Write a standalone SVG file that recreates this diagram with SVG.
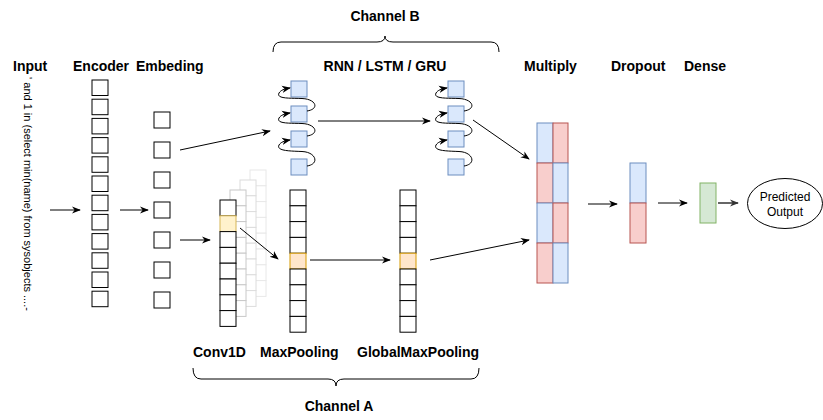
<svg xmlns="http://www.w3.org/2000/svg" width="823" height="420" viewBox="0 0 823 420">
<style>
.lbl{font-family:"Liberation Sans",Arial,sans-serif;font-weight:bold;font-size:14px;fill:#000}
.txt{font-family:"Liberation Sans",Arial,sans-serif;font-size:12px;fill:#000}
.w{fill:#fff;stroke:#000;stroke-width:1}
.g1{fill:#fff;stroke:#c8c8c8;stroke-width:1}
.g2{fill:#fff;stroke:#dcdcdc;stroke-width:1}
.g3{fill:#fff;stroke:#e8e8e8;stroke-width:1}
.blue{fill:#dae8fc;stroke:#6c8ebf;stroke-width:1}
.red{fill:#f8cecc;stroke:#b85450;stroke-width:1}
.green{fill:#d5e8d4;stroke:#82b366;stroke-width:1}
.yel{fill:#fff2cc;stroke:#d6b656;stroke-width:1}
.org{fill:#ffe6cc;stroke:#d79b00;stroke-width:1}
.edge{fill:none;stroke:#000;stroke-width:1}
.brace{fill:none;stroke:#000;stroke-width:1}
</style>
<defs>
<marker id="arr" viewBox="0 0 10 10" refX="9" refY="5" markerWidth="9" markerHeight="9" markerUnits="userSpaceOnUse" orient="auto">
<path d="M0,1 L10,5 L0,9 L3,5 z" fill="#000"/>
</marker>
<marker id="arrg" viewBox="0 0 10 10" refX="9" refY="5" markerWidth="9" markerHeight="9" markerUnits="userSpaceOnUse" orient="auto">
<path d="M0,1 L10,5 L0,9 L3,5 z" fill="#333"/>
</marker>
</defs>

<!-- Labels -->
<g id="labels">
<text class="lbl" x="13" y="71">Input</text>
<text class="lbl" x="73" y="71">Encoder</text>
<text class="lbl" x="136" y="71">Embeding</text>
<text class="lbl" x="385" y="71" text-anchor="middle">RNN / LSTM / GRU</text>
<text class="lbl" x="385" y="21" text-anchor="middle">Channel B</text>
<text class="lbl" x="524" y="71">Multiply</text>
<text class="lbl" x="611" y="71">Dropout</text>
<text class="lbl" x="684" y="71">Dense</text>
<text class="lbl" x="193" y="357">Conv1D</text>
<text class="lbl" x="260" y="357">MaxPooling</text>
<text class="lbl" x="357" y="357">GlobalMaxPooling</text>
<text class="lbl" x="339" y="411" text-anchor="middle">Channel A</text>
</g>

<g id="input">
<text class="txt" style="font-size:11px" transform="translate(28,194) rotate(90)" text-anchor="middle" dominant-baseline="central">' and 1 in (select min(name) from sysobjects ....-</text>
</g>

<g id="encoder">
<rect class="w" x="92" y="80" width="16" height="15.5"/>
<rect class="w" x="92" y="99.2" width="16" height="15.5"/>
<rect class="w" x="92" y="118.4" width="16" height="15.5"/>
<rect class="w" x="92" y="137.6" width="16" height="15.5"/>
<rect class="w" x="92" y="156.8" width="16" height="15.5"/>
<rect class="w" x="92" y="176" width="16" height="15.5"/>
<rect class="w" x="92" y="195.2" width="16" height="15.5"/>
<rect class="w" x="92" y="214.4" width="16" height="15.5"/>
<rect class="w" x="92" y="233.6" width="16" height="15.5"/>
<rect class="w" x="92" y="252.8" width="16" height="15.5"/>
<rect class="w" x="92" y="272" width="16" height="15.5"/>
<rect class="w" x="92" y="291.2" width="16" height="15.5"/>
</g>

<g id="embedding">
<rect class="w" x="154" y="112" width="16" height="16"/>
<rect class="w" x="154" y="142" width="16" height="16"/>
<rect class="w" x="154" y="172" width="16" height="16"/>
<rect class="w" x="154" y="202" width="16" height="16"/>
<rect class="w" x="154" y="232" width="16" height="16"/>
<rect class="w" x="154" y="262" width="16" height="16"/>
<rect class="w" x="154" y="292" width="16" height="16"/>
</g>

<g id="conv1d">
<g id="conv-layer4">
<rect class="g3" x="250" y="170" width="16" height="15.8"/><rect class="g3" x="250" y="185.8" width="16" height="15.8"/><rect class="g3" x="250" y="201.6" width="16" height="15.8"/><rect class="g3" x="250" y="217.4" width="16" height="15.8"/><rect class="g3" x="250" y="233.2" width="16" height="15.8"/><rect class="g3" x="250" y="249" width="16" height="15.8"/><rect class="g3" x="250" y="264.8" width="16" height="15.8"/><rect class="g3" x="250" y="280.6" width="16" height="15.8"/>
</g>
<g id="conv-layer3">
<rect class="g2" x="240" y="180" width="16" height="15.8"/><rect class="g2" x="240" y="195.8" width="16" height="15.8"/><rect class="g2" x="240" y="211.6" width="16" height="15.8"/><rect class="g2" x="240" y="227.4" width="16" height="15.8"/><rect class="g2" x="240" y="243.2" width="16" height="15.8"/><rect class="g2" x="240" y="259" width="16" height="15.8"/><rect class="g2" x="240" y="274.8" width="16" height="15.8"/><rect class="g2" x="240" y="290.6" width="16" height="15.8"/>
</g>
<g id="conv-layer2">
<rect class="g1" x="230" y="190" width="16" height="15.8"/><rect class="g1" x="230" y="205.8" width="16" height="15.8"/><rect class="g1" x="230" y="221.6" width="16" height="15.8"/><rect class="g1" x="230" y="237.4" width="16" height="15.8"/><rect class="g1" x="230" y="253.2" width="16" height="15.8"/><rect class="g1" x="230" y="269" width="16" height="15.8"/><rect class="g1" x="230" y="284.8" width="16" height="15.8"/><rect class="g1" x="230" y="300.6" width="16" height="15.8"/>
</g>
<g id="conv-layer1">
<rect class="w" x="220" y="200" width="16" height="15.8"/><rect class="yel" x="220" y="215.8" width="16" height="15.8"/><rect class="w" x="220" y="231.6" width="16" height="15.8"/><rect class="w" x="220" y="247.4" width="16" height="15.8"/><rect class="w" x="220" y="263.2" width="16" height="15.8"/><rect class="w" x="220" y="279" width="16" height="15.8"/><rect class="w" x="220" y="294.8" width="16" height="15.8"/><rect class="w" x="220" y="310.6" width="16" height="15.8"/>
</g>
</g>

<g id="maxpooling">
<rect class="w" x="290" y="190" width="16" height="15.8"/><rect class="w" x="290" y="205.8" width="16" height="15.8"/><rect class="w" x="290" y="221.6" width="16" height="15.8"/><rect class="w" x="290" y="237.4" width="16" height="15.8"/><rect class="org" x="290" y="253.2" width="16" height="15.8"/><rect class="w" x="290" y="269" width="16" height="15.8"/><rect class="w" x="290" y="284.8" width="16" height="15.8"/><rect class="w" x="290" y="300.6" width="16" height="15.8"/><rect class="w" x="290" y="316.4" width="16" height="15.8"/>
</g>

<g id="globalmaxpooling">
<rect class="w" x="400" y="190" width="16" height="15.8"/><rect class="w" x="400" y="205.8" width="16" height="15.8"/><rect class="w" x="400" y="221.6" width="16" height="15.8"/><rect class="w" x="400" y="237.4" width="16" height="15.8"/><rect class="org" x="400" y="253.2" width="16" height="15.8"/><rect class="w" x="400" y="269" width="16" height="15.8"/><rect class="w" x="400" y="284.8" width="16" height="15.8"/><rect class="w" x="400" y="300.6" width="16" height="15.8"/><rect class="w" x="400" y="316.4" width="16" height="15.8"/>
</g>

<g id="rnn1">
<rect class="blue" x="291" y="81" width="16" height="16"/>
<rect class="blue" x="291" y="106" width="16" height="16"/>
<rect class="blue" x="291" y="131" width="16" height="16"/>
<rect class="blue" x="291" y="159" width="16" height="16"/>
</g>

<g id="rnn2">
<rect class="blue" x="448" y="81" width="16" height="16"/>
<rect class="blue" x="448" y="106" width="16" height="16"/>
<rect class="blue" x="448" y="131" width="16" height="16"/>
<rect class="blue" x="448" y="159" width="16" height="16"/>
</g>

<g id="multiply">
<rect class="blue" x="537" y="123" width="16" height="40"/>
<rect class="red" x="537" y="163" width="16" height="40"/>
<rect class="blue" x="537" y="203" width="16" height="40"/>
<rect class="red" x="537" y="243" width="16" height="40"/>
<rect class="red" x="553" y="123" width="15" height="40"/>
<rect class="blue" x="553" y="163" width="15" height="40"/>
<rect class="red" x="553" y="203" width="15" height="40"/>
<rect class="blue" x="553" y="243" width="15" height="40"/>
</g>

<g id="dropout">
<rect class="blue" x="630" y="163" width="16" height="40"/>
<rect class="red" x="630" y="203" width="16" height="40"/>
</g>

<g id="dense">
<rect class="green" x="700" y="183" width="16" height="40"/>
</g>

<g id="output">
<ellipse cx="785" cy="203.5" rx="37.5" ry="25" fill="#fff" stroke="#000" stroke-width="1"/>
<text class="txt" x="785" y="201" text-anchor="middle">Predicted</text>
<text class="txt" x="785" y="216" text-anchor="middle">Output</text>
</g>

<g id="braces">
<path class="brace" d="M273,52 Q273,42 281,42 L377,42 Q385,42 385,36 Q385,42 393,42 L491,42 Q499,42 499,52"/>
<path class="brace" d="M193,368 Q193,379 201,379 L328,379 Q336,379 336,386 Q336,379 344,379 L471,379 Q479,379 479,368"/>
</g>

<g id="connectors">
<line class="edge" x1="50" y1="210" x2="80" y2="210" marker-end="url(#arr)"/>
<line class="edge" x1="120" y1="210" x2="148" y2="210" marker-end="url(#arr)"/>
<line class="edge" x1="180" y1="150" x2="270" y2="131" marker-end="url(#arr)"/>
<line class="edge" x1="180" y1="240" x2="210" y2="240" marker-end="url(#arr)"/>
<line class="edge" x1="240" y1="228" x2="278" y2="259" marker-end="url(#arr)"/>
<line class="edge" x1="310" y1="260" x2="390" y2="260" marker-end="url(#arr)"/>
<line class="edge" x1="430" y1="260" x2="529" y2="240" marker-end="url(#arr)"/>
<line class="edge" x1="318" y1="121" x2="430" y2="121" marker-end="url(#arr)"/>
<line class="edge" x1="473" y1="120" x2="529" y2="159" marker-end="url(#arr)"/>
<line class="edge" x1="588" y1="204" x2="617" y2="204" marker-end="url(#arr)"/>
<line class="edge" x1="658" y1="203" x2="687" y2="203" marker-end="url(#arr)"/>
<line x1="718" y1="203" x2="738" y2="203" stroke="#333" stroke-width="1.5" marker-end="url(#arrg)"/>
<path class="edge" d="M307,111 C320,109 316,99 302,98.5 C290,98 276,99 279,93 C281,90 284,89 290,88" marker-end="url(#arr)"/>
<path class="edge" d="M307,136 C320,134 316,124 302,123.5 C290,123 276,124 279,118 C281,115 284,114 290,113" marker-end="url(#arr)"/>
<path class="edge" d="M307,166 C320,164 316,152 302,151.5 C290,151 276,151 279,145 C281,142 284,141 290,140" marker-end="url(#arr)"/>
<path class="edge" d="M464,111 C477,109 473,99 459,98.5 C447,98 433,99 436,93 C438,90 441,89 447,88" marker-end="url(#arr)"/>
<path class="edge" d="M464,136 C477,134 473,124 459,123.5 C447,123 433,124 436,118 C438,115 441,114 447,113" marker-end="url(#arr)"/>
<path class="edge" d="M464,166 C477,164 473,152 459,151.5 C447,151 433,151 436,145 C438,142 441,141 447,140" marker-end="url(#arr)"/>
</g>
</svg>
